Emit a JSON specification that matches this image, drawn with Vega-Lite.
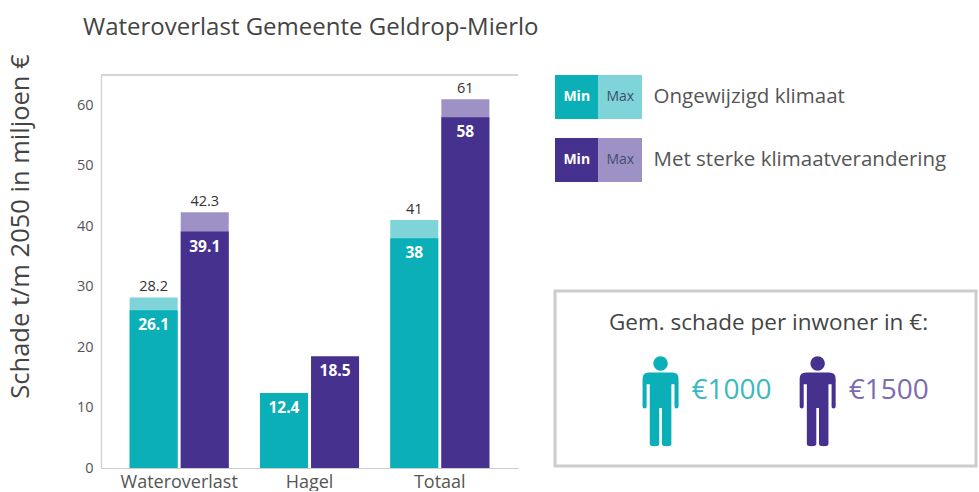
{"$schema":"https://vega.github.io/schema/vega-lite/v6.json","padding":{"left":7,"right":0,"top":15,"bottom":0},"background":"white","config":{"font":"Open Sans","view":{"stroke":null}},"title":{"text":"Wateroverlast Gemeente Geldrop-Mierlo","anchor":"start","frame":"group","fontSize":24,"fontWeight":"normal","color":"#444444","dx":-18,"offset":14},"datasets":{"bars":[{"categorie":"Wateroverlast","scenario":"Ongewijzigd klimaat","niveau":"Max","sleutel":"Ongewijzigd Max","waarde":28.2},{"categorie":"Wateroverlast","scenario":"Ongewijzigd klimaat","niveau":"Min","sleutel":"Ongewijzigd Min","waarde":26.1},{"categorie":"Wateroverlast","scenario":"Met sterke klimaatverandering","niveau":"Max","sleutel":"Sterk Max","waarde":42.3},{"categorie":"Wateroverlast","scenario":"Met sterke klimaatverandering","niveau":"Min","sleutel":"Sterk Min","waarde":39.1},{"categorie":"Hagel","scenario":"Ongewijzigd klimaat","niveau":"Min","sleutel":"Ongewijzigd Min","waarde":12.4},{"categorie":"Hagel","scenario":"Met sterke klimaatverandering","niveau":"Min","sleutel":"Sterk Min","waarde":18.5},{"categorie":"Totaal","scenario":"Ongewijzigd klimaat","niveau":"Max","sleutel":"Ongewijzigd Max","waarde":41},{"categorie":"Totaal","scenario":"Ongewijzigd klimaat","niveau":"Min","sleutel":"Ongewijzigd Min","waarde":38},{"categorie":"Totaal","scenario":"Met sterke klimaatverandering","niveau":"Max","sleutel":"Sterk Max","waarde":61},{"categorie":"Totaal","scenario":"Met sterke klimaatverandering","niveau":"Min","sleutel":"Sterk Min","waarde":58}],"legenda":[{"scenario":"Ongewijzigd klimaat","niveau":"Min","sleutel":"Ongewijzigd Min"},{"scenario":"Ongewijzigd klimaat","niveau":"Max","sleutel":"Ongewijzigd Max"},{"scenario":"Met sterke klimaatverandering","niveau":"Min","sleutel":"Sterk Min"},{"scenario":"Met sterke klimaatverandering","niveau":"Max","sleutel":"Sterk Max"}],"inwoner":[{"scenario":"Ongewijzigd klimaat","groep":"inwoner","bedrag":"€1000"},{"scenario":"Met sterke klimaatverandering","groep":"inwoner","bedrag":"€1500"}]},"hconcat":[{"width":417,"height":393,"data":{"name":"bars"},"layer":[{"mark":{"type":"rule","color":"#d4d4d4","strokeWidth":1.5},"encoding":{"y":{"datum":65,"type":"quantitative"}}},{"mark":{"type":"bar"},"encoding":{"x":{"field":"categorie","type":"nominal","sort":["Wateroverlast","Hagel","Totaal"],"scale":{"paddingInner":0,"paddingOuter":0.1},"axis":{"title":null,"labelAngle":0,"labelFontSize":18,"labelColor":"#555555","ticks":false,"domainColor":"#cccccc","labelPadding":5}},"xOffset":{"field":"scenario","type":"nominal","sort":["Ongewijzigd klimaat","Met sterke klimaatverandering"],"scale":{"paddingInner":0.06,"paddingOuter":0.305}},"y":{"field":"waarde","type":"quantitative","stack":null,"scale":{"domain":[0,65],"nice":false},"axis":{"values":[0,10,20,30,40,50,60],"title":"Schade t/m 2050 in miljoen €","titleFontSize":25.5,"titleFontWeight":"normal","titleColor":"#444444","titleX":-68,"titleY":151,"labelFontSize":14.5,"labelColor":"#555555","labelPadding":8,"ticks":false,"domainColor":"#d4d4d4","domainWidth":1.5,"gridColor":"#eeeeee","gridWidth":2}},"color":{"field":"sleutel","type":"nominal","legend":null,"scale":{"domain":["Ongewijzigd Min","Ongewijzigd Max","Sterk Min","Sterk Max"],"range":["#0bafb7","#7ed4d8","#46318f","#9e91c6"]}},"order":{"field":"niveau","sort":"ascending"}}},{"transform":[{"filter":"datum.niveau === 'Min'"}],"mark":{"type":"text","color":"white","fontWeight":"bold","fontSize":15.5,"baseline":"middle","dy":15},"encoding":{"x":{"field":"categorie","type":"nominal","sort":["Wateroverlast","Hagel","Totaal"]},"xOffset":{"field":"scenario","type":"nominal","sort":["Ongewijzigd klimaat","Met sterke klimaatverandering"]},"y":{"field":"waarde","type":"quantitative"},"text":{"field":"waarde","type":"nominal"}}},{"transform":[{"filter":"datum.niveau === 'Max'"}],"mark":{"type":"text","color":"#333333","fontSize":14.5,"baseline":"middle","dy":-10},"encoding":{"x":{"field":"categorie","type":"nominal","sort":["Wateroverlast","Hagel","Totaal"]},"xOffset":{"field":"scenario","type":"nominal","sort":["Ongewijzigd klimaat","Met sterke klimaatverandering"]},"y":{"field":"waarde","type":"quantitative"},"text":{"field":"waarde","type":"nominal"}}}]},{"spacing":107,"vconcat":[{"width":87,"height":107,"data":{"name":"legenda"},"encoding":{"x":{"field":"niveau","type":"nominal","sort":["Min","Max"],"scale":{"padding":0},"axis":null},"y":{"field":"scenario","type":"nominal","sort":["Ongewijzigd klimaat","Met sterke klimaatverandering"],"scale":{"paddingInner":0.3,"paddingOuter":0},"axis":{"orient":"right","title":null,"ticks":false,"domain":false,"labelFontSize":20.5,"labelColor":"#555555","labelPadding":11,"labelLimit":330}}},"layer":[{"mark":{"type":"rect"},"encoding":{"color":{"field":"sleutel","type":"nominal","legend":null,"scale":{"domain":["Ongewijzigd Min","Ongewijzigd Max","Sterk Min","Sterk Max"],"range":["#0bafb7","#7ed4d8","#46318f","#9e91c6"]}}}},{"transform":[{"filter":"datum.niveau === 'Min'"}],"mark":{"type":"text","fontWeight":"bold","fontSize":14,"color":"#ffffff"},"encoding":{"text":{"field":"niveau","type":"nominal"}}},{"transform":[{"filter":"datum.niveau === 'Max'"}],"mark":{"type":"text","fontSize":14,"color":"#3f4f6a"},"encoding":{"text":{"field":"niveau","type":"nominal"}}}]},{"width":421,"height":175,"view":{"stroke":"#cccccc","strokeWidth":3,"fill":"white"},"title":{"text":"Gem. schade per inwoner in €:","fontSize":22.5,"fontWeight":"normal","color":"#444444","anchor":"middle","offset":-43,"dx":3},"data":{"name":"inwoner"},"encoding":{"x":{"field":"scenario","type":"nominal","sort":["Ongewijzigd klimaat","Met sterke klimaatverandering"],"scale":{"type":"point","padding":0.84,"align":0.4},"axis":null},"y":{"field":"groep","type":"nominal","scale":{"type":"point","padding":1,"align":0.63},"axis":null}},"layer":[{"mark":{"type":"point","filled":true,"opacity":1,"size":8100,"strokeWidth":0,"shape":"M-0.4,-0.5 Q-0.4,-0.64 -0.26,-0.64 L0.26,-0.64 Q0.4,-0.64 0.4,-0.5 L0.4,0.12 Q0.4,0.16 0.35,0.16 Q0.31,0.16 0.31,0.12 L0.31,-0.38 L0.24,-0.38 L0.24,0.95 Q0.24,1 0.14,1 Q0.03,1 0.03,0.95 L0.03,0.15 L-0.03,0.15 L-0.03,0.95 Q-0.03,1 -0.14,1 Q-0.24,1 -0.24,0.95 L-0.24,-0.38 L-0.31,-0.38 L-0.31,0.12 Q-0.31,0.16 -0.35,0.16 Q-0.4,0.16 -0.4,0.12 Z M-0.16,-0.84 a0.16,0.16 0 1,0 0.32,0 a0.16,0.16 0 1,0 -0.32,0 Z"},"encoding":{"color":{"field":"scenario","type":"nominal","legend":null,"scale":{"domain":["Ongewijzigd klimaat","Met sterke klimaatverandering"],"range":["#0bafb7","#46318f"]}}}},{"mark":{"type":"text","align":"left","baseline":"middle","fontSize":28,"dx":31,"dy":-10},"encoding":{"text":{"field":"bedrag","type":"nominal"},"color":{"field":"bedrag","type":"nominal","legend":null,"scale":{"domain":["€1000","€1500"],"range":["#3cb8bf","#7c6ab6"]}}}}],"resolve":{"scale":{"color":"independent"}}}]}],"spacing":34,"resolve":{"scale":{"color":"independent"}}}
